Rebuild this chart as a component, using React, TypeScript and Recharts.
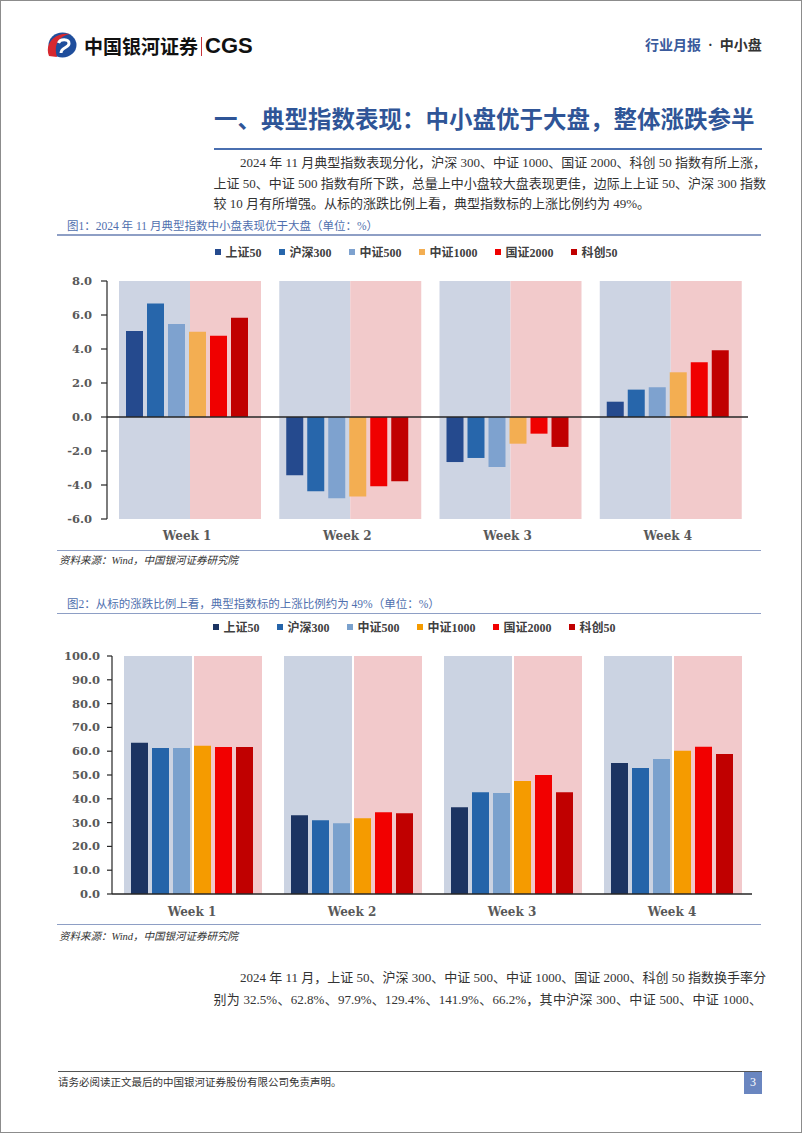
import { Bar, BarChart, ReferenceLine, XAxis, YAxis } from "recharts";

const weeks = ["Week 1", "Week 2", "Week 3", "Week 4"];
const indexNames = ["上证50", "沪深300", "中证500", "中证1000", "国证2000", "科创50"];

// 图1: weekly change, %
const chgSZ50 = [5.06, -3.43, -2.65, 0.9];
const chgHS300 = [6.67, -4.37, -2.41, 1.61];
const chgZZ500 = [5.47, -4.78, -2.94, 1.75];
const chgZZ1000 = [5.02, -4.67, -1.57, 2.63];
const chgGZ2000 = [4.78, -4.08, -0.98, 3.22];
const chgKC50 = [5.84, -3.78, -1.76, 3.92];
const chgTicks = [-6, -4, -2, 0, 2, 4, 6, 8];

// 图2: share of constituents that rose, %
const upSZ50 = [63.6, 33.1, 36.4, 55.0];
const upHS300 = [61.3, 31.0, 42.7, 52.9];
const upZZ500 = [61.3, 29.7, 42.4, 56.7];
const upZZ1000 = [62.3, 31.8, 47.5, 60.2];
const upGZ2000 = [61.8, 34.3, 50.0, 61.9];
const upKC50 = [61.8, 33.9, 42.7, 58.8];
const upTicks = [0, 10, 20, 30, 40, 50, 60, 70, 80, 90, 100];

const fig1Colors = ["#254a8e", "#2766ab", "#7ea2cf", "#f3ae52", "#f00000", "#c00000"];
const fig2Colors = ["#1c3462", "#2564a9", "#7aa1cd", "#f59b00", "#f20000", "#c00000"];

const serif = '"Liberation Serif", "Noto Sans CJK SC", serif';
const tickFamily = '"DejaVu Serif", "Liberation Serif", serif';
const gray = "#595959";
const lineBlue = "#8e9fc5";

type ChartProps = {
  top: number;
  height: number;
  plotTop: number;
  plotBottom: number;
  plotLeft: number;
  plotRight: number;
  series: number[][];
  colors: string[];
  ticks: number[];
  bgColors: string[];
  bgSize: number;
  bgGap: number;
  bgShift: number;
  tickSize: number;
  tickGap: number;
  labelDy: number;
  tickFont: number;
};

function WeeklyChart(p: ChartProps) {
  const lo = p.ticks[0];
  const hi = p.ticks[p.ticks.length - 1];
  const rows = weeks.map((w, i) => {
    const row: any = { week: w, bgBlue: [lo, hi], bgPink: [lo, hi] };
    p.series.forEach((s, k) => (row[`s${k}`] = s[i]));
    return row;
  });
  const mTop = p.plotTop - p.top;
  const mBottom = p.top + p.height - p.plotBottom;
  const right = 802 - p.plotRight;

  const yTick = (props: any) => (
    <text
      x={props.x}
      y={props.y}
      textAnchor="end"
      dominantBaseline="central"
      fontFamily={tickFamily}
      fontSize={p.tickFont}
      fontWeight="bold"
      fill={gray}
    >
      {Number(props.payload.value).toFixed(1)}
    </text>
  );
  const xTick = (props: any) => (
    <text
      x={props.x}
      y={props.y + p.labelDy}
      textAnchor="middle"
      dominantBaseline="central"
      fontFamily={tickFamily}
      fontSize={12}
      fontWeight="bold"
      fill={gray}
    >
      {props.payload.value}
    </text>
  );

  return (
    <div style={{ position: "absolute", left: 0, top: p.top, width: 802, height: p.height }}>
      <div style={{ position: "absolute", left: p.bgShift, top: 0 }}>
        <BarChart
          width={802}
          height={p.height}
          data={rows}
          barGap={p.bgGap}
          margin={{ top: mTop, bottom: mBottom, left: p.plotLeft, right }}
        >
          <XAxis dataKey="week" hide />
          <YAxis hide type="number" domain={[lo, hi]} allowDataOverflow />
          <Bar dataKey="bgBlue" fill={p.bgColors[0]} barSize={p.bgSize} isAnimationActive={false} />
          <Bar dataKey="bgPink" fill={p.bgColors[1]} barSize={p.bgSize} isAnimationActive={false} />
        </BarChart>
      </div>
      <div style={{ position: "absolute", left: 0, top: 0 }}>
        <BarChart
          width={802}
          height={p.height}
          data={rows}
          barGap={4}
          margin={{ top: mTop, bottom: mBottom - 30, left: 40, right }}
        >
          <XAxis
            dataKey="week"
            height={30}
            axisLine={false}
            tickLine={false}
            interval={0}
            tick={xTick}
          />
          <YAxis
            width={p.plotLeft - 40}
            type="number"
            domain={[lo, hi]}
            ticks={p.ticks}
            interval={0}
            tick={yTick}
            tickSize={p.tickSize}
            tickMargin={p.tickGap}
            axisLine={{ stroke: "#262626", strokeWidth: 1.2 }}
            tickLine={{ stroke: "#262626", strokeWidth: 1.2 }}
          />
          {p.series.map((_, k) => (
            <Bar
              key={k}
              dataKey={`s${k}`}
              name={indexNames[k]}
              fill={p.colors[k]}
              barSize={17}
              isAnimationActive={false}
            />
          ))}
          <ReferenceLine y={0} stroke="#262626" strokeWidth={1.3} />
        </BarChart>
      </div>
    </div>
  );
}

function Legend({ left, top, colors }: { left: number; top: number; colors: string[] }) {
  return (
    <div
      style={{
        position: "absolute",
        left,
        top: top - 8,
        height: 16,
        display: "flex",
        alignItems: "center",
        gap: 17.5,
        fontFamily: serif,
        fontSize: 12,
        fontWeight: "bold",
        color: "#404040",
        whiteSpace: "nowrap",
      }}
    >
      {indexNames.map((n, i) => (
        <div key={n} style={{ display: "flex", alignItems: "center" }}>
          <span style={{ width: 6, height: 6, background: colors[i], marginRight: 4.5 }} />
          <span>{n}</span>
        </div>
      ))}
    </div>
  );
}

function Line({ x1, x2, y, h, color }: { x1: number; x2: number; y: number; h: number; color: string }) {
  return <div style={{ position: "absolute", left: x1, top: y - h / 2, width: x2 - x1, height: h, background: color }} />;
}

function Txt({
  x,
  y,
  w,
  size,
  children,
  style,
  justify,
}: {
  x: number;
  y: number;
  w?: number;
  size: number;
  children: any;
  style?: any;
  justify?: boolean;
}) {
  const lh = size * 1.6;
  return (
    <div
      style={{
        position: "absolute",
        left: x,
        top: y - lh / 2,
        width: w,
        lineHeight: `${lh}px`,
        fontSize: size,
        fontFamily: serif,
        color: "#333",
        whiteSpace: "nowrap",
        textAlign: justify ? "justify" : "left",
        textAlignLast: justify ? "justify" : "left",
        ...style,
      }}
    >
      {children}
    </div>
  );
}

export default function App() {
  return (
    <div
      style={{
        position: "absolute",
        left: 0,
        top: 0,
        width: 802,
        height: 1133,
        background: "#fff",
        overflow: "hidden",
      }}
    >
      <div
        style={{
          position: "absolute",
          left: 0,
          top: 0,
          width: 800,
          height: 1131,
          border: "1px solid #8c8c8c",
        }}
      />
      {/* header */}
      <svg style={{ position: "absolute", left: 46, top: 32 }} width={31} height={27} viewBox="0 0 31 27">
        <ellipse cx="16.5" cy="13" rx="14" ry="12.5" fill="#1f4e9c" />
        <path d="M3 24 C -2 12, 9 0, 24 2 C 13 4, 7 13, 11 25 Z" fill="#d7282f" />
        <path d="M12.5 11 C 14 6.5, 23 6.5, 23 11.5 C 23 16, 15 15, 15 21" stroke="#fff" strokeWidth="3" fill="none" />
      </svg>
      <div
        style={{
          position: "absolute",
          left: 84,
          top: 33,
          lineHeight: "26px",
          fontFamily: '"Noto Sans CJK SC", sans-serif',
          fontWeight: "bold",
          fontSize: 19,
          color: "#111",
          whiteSpace: "nowrap",
        }}
      >
        中国银河证券
      </div>
      <div style={{ position: "absolute", left: 200.5, top: 37, width: 1.5, height: 19, background: "#c8343a" }} />
      <div
        style={{
          position: "absolute",
          left: 205,
          top: 33,
          lineHeight: "26px",
          fontFamily: '"Liberation Sans", sans-serif',
          fontWeight: "bold",
          fontSize: 22,
          color: "#111",
        }}
      >
        CGS
      </div>
      <div
        style={{
          position: "absolute",
          left: 645,
          top: 35,
          lineHeight: "22px",
          fontFamily: serif,
          fontWeight: "bold",
          fontSize: 14,
          whiteSpace: "nowrap",
        }}
      >
        <span style={{ color: "#3a5a9c" }}>行业月报</span>
        <span style={{ color: "#333", margin: "0 7px" }}>·</span>
        <span style={{ color: "#333" }}>中小盘</span>
      </div>

      {/* section title */}
      <Txt x={214} y={121} size={23.5} style={{ color: "#2f5597", fontWeight: "bold" }}>
        一、典型指数表现：中小盘优于大盘，整体涨跌参半
      </Txt>
      <Line x1={213.5} x2={762} y={148.5} h={2} color="#4a6fb0" />
      <Txt x={240} y={163.5} w={522} size={13} justify>
        2024 年 11 月典型指数表现分化，沪深 300、中证 1000、国证 2000、科创 50 指数有所上涨，
      </Txt>
      <Txt x={213.5} y={184} w={548.5} size={13} justify>
        上证 50、中证 500 指数有所下跌，总量上中小盘较大盘表现更佳，边际上上证 50、沪深 300 指数
      </Txt>
      <Txt x={213.5} y={204.5} size={13}>
        较 10 月有所增强。从标的涨跌比例上看，典型指数标的上涨比例约为 49%。
      </Txt>

      {/* figure 1 */}
      <Txt x={67} y={226} size={11.5} style={{ color: "#4f6fae" }}>
        图1：2024 年 11 月典型指数中小盘表现优于大盘（单位：%）
      </Txt>
      <Line x1={57} x2={761} y={235} h={1.5} color={lineBlue} />
      <Legend left={215} top={252} colors={fig1Colors} />
      <WeeklyChart
        top={240}
        height={320}
        plotTop={281}
        plotBottom={519}
        plotLeft={107}
        plotRight={748}
        series={[chgSZ50, chgHS300, chgZZ500, chgZZ1000, chgGZ2000, chgKC50]}
        colors={fig1Colors}
        ticks={chgTicks}
        bgColors={["#cdd4e3", "#f2cacb"]}
        bgSize={71}
        bgGap={0}
        bgShift={3}
        tickSize={6}
        tickGap={9}
        labelDy={9}
        tickFont={11.5}
      />
      <Line x1={57} x2={761} y={550.5} h={1.5} color={lineBlue} />
      <Txt x={59} y={561} size={10.5} style={{ fontStyle: "italic" }}>
        资料来源：Wind，中国银河证券研究院
      </Txt>

      {/* figure 2 */}
      <Txt x={67} y={604} size={11.5} style={{ color: "#4f6fae" }}>
        图2：从标的涨跌比例上看，典型指数标的上涨比例约为 49%（单位：%）
      </Txt>
      <Line x1={57} x2={761} y={613.3} h={1.5} color={lineBlue} />
      <Legend left={213} top={627} colors={fig2Colors} />
      <WeeklyChart
        top={620}
        height={320}
        plotTop={656}
        plotBottom={894}
        plotLeft={112}
        plotRight={752}
        series={[upSZ50, upHS300, upZZ500, upZZ1000, upGZ2000, upKC50]}
        colors={fig2Colors}
        ticks={upTicks}
        bgColors={["#cbd3e2", "#f2c9cb"]}
        bgSize={68}
        bgGap={2}
        bgShift={1}
        tickSize={5}
        tickGap={7}
        labelDy={10}
        tickFont={11.5}
      />
      <Line x1={57} x2={761} y={924.7} h={1.5} color={lineBlue} />
      <Txt x={59} y={937} size={10.5} style={{ fontStyle: "italic" }}>
        资料来源：Wind，中国银河证券研究院
      </Txt>

      {/* body text */}
      <Txt x={240} y={978} w={522} size={13} justify>
        2024 年 11 月，上证 50、沪深 300、中证 500、中证 1000、国证 2000、科创 50 指数换手率分
      </Txt>
      <Txt x={213.5} y={1000} w={548.5} size={13} justify>
        别为 32.5%、62.8%、97.9%、129.4%、141.9%、66.2%，其中沪深 300、中证 500、中证 1000、
      </Txt>

      {/* footer */}
      <Line x1={57.8} x2={762} y={1071.5} h={1.5} color="#555" />
      <Txt x={58} y={1083.5} size={10.5}>
        请务必阅读正文最后的中国银河证券股份有限公司免责声明。
      </Txt>
      <div
        style={{
          position: "absolute",
          left: 744,
          top: 1072,
          width: 18,
          height: 21.5,
          background: "#6a86c0",
          color: "#fff",
          fontFamily: serif,
          fontSize: 12,
          lineHeight: "21.5px",
          textAlign: "center",
        }}
      >
        3
      </div>
    </div>
  );
}
